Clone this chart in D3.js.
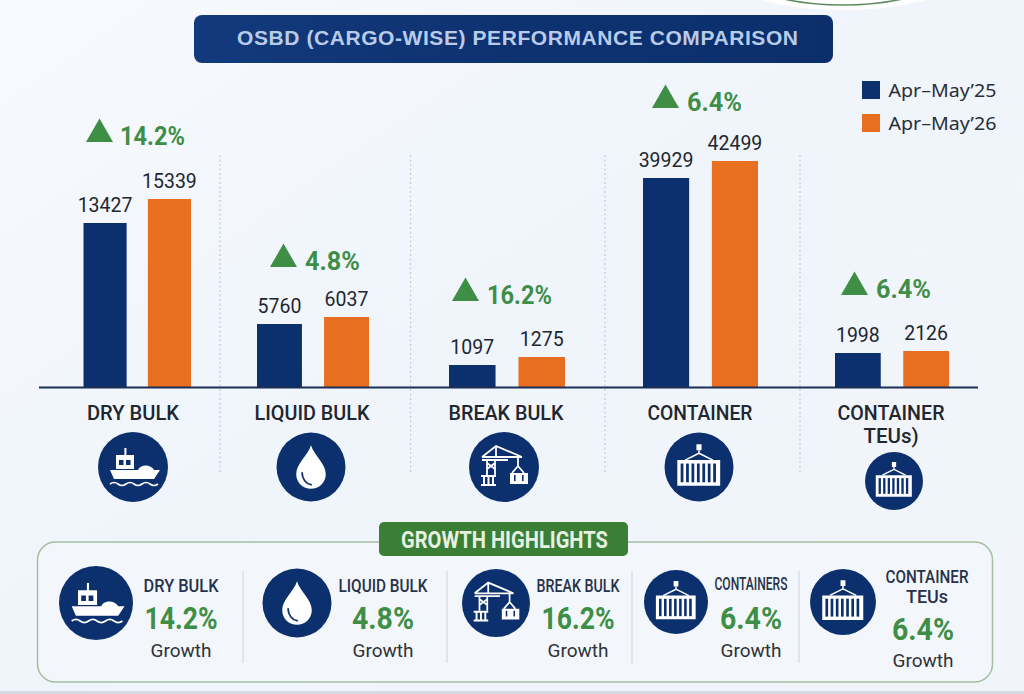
<!DOCTYPE html>
<html>
<head>
<meta charset="utf-8">
<title>OSBD (Cargo-wise) Performance Comparison</title>
<script src="https://cdn.jsdelivr.net/npm/d3@7/dist/d3.min.js"></script>
<style>
  html, body { margin: 0; padding: 0; background: #f1f5fc; }
  svg { display: block; }
  text { font-family: Roboto, "Noto Sans", sans-serif; }
</style>
</head>
<body>
<svg id="chart" width="1024" height="694"></svg>
<script>
// ---- Chart data ----
const categories = ["DRY BULK", "LIQUID BULK", "BREAK BULK", "CONTAINER", "CONTAINER TEUs)"];
const seriesNames = ["Apr–May’25", "Apr–May’26"];
const valuesApr25 = [13427, 5760, 1097, 39929, 1998];
const valuesApr26 = [15339, 6037, 1275, 42499, 2126];
const growthLabels = ["14.2%", "4.8%", "16.2%", "6.4%", "6.4%"];
const highlightNames = ["DRY BULK", "LIQUID BULK", "BREAK BULK", "CONTAINERS", "CONTAINER TEUs"];
const iconKinds = ["ship", "drop", "crane", "container", "container"];

const NAVY = "#0c2f6d", ORANGE = "#e96f20", GREEN = "#3f8e46", INK = "#22262e";
const svg = d3.select("#chart");

// ---- Backdrop ----
const defs = svg.append("defs");
const bg = defs.append("linearGradient").attr("id", "bg").attr("x1", 0).attr("y1", 0).attr("x2", 1).attr("y2", 1);
bg.append("stop").attr("offset", 0).attr("stop-color", "#f7fafe");
bg.append("stop").attr("offset", 0.45).attr("stop-color", "#f0f5fc");
bg.append("stop").attr("offset", 1).attr("stop-color", "#f1f5fa");
const pill = defs.append("linearGradient").attr("id", "pill");
pill.append("stop").attr("offset", 0).attr("stop-color", "#123a7c");
pill.append("stop").attr("offset", 0.5).attr("stop-color", "#0e3170");
pill.append("stop").attr("offset", 1).attr("stop-color", "#0c2f6c");

svg.append("rect").attr("width", 1024).attr("height", 694).attr("fill", "url(#bg)");
svg.append("rect").attr("y", 691).attr("width", 1024).attr("height", 3).attr("fill", "#d6dbe3");

// Seal edge poking in from the top of the page
svg.append("ellipse").attr("cx", 843).attr("cy", -42).attr("rx", 140).attr("ry", 52).attr("fill", "#ffffff");
svg.append("ellipse").attr("cx", 843).attr("cy", -42).attr("rx", 120).attr("ry", 47)
  .attr("fill", "none").attr("stroke", "#5f8c63").attr("stroke-width", 1.6);

// ---- Title ----
svg.append("rect").attr("x", 194).attr("y", 15).attr("width", 639).attr("height", 48).attr("rx", 8)
  .attr("fill", "url(#pill)");
svg.append("text").attr("x", 517.5).attr("y", 44.5).attr("text-anchor", "middle")
  .attr("textLength", 561).attr("lengthAdjust", "spacing")
  .style("font-family", "'Liberation Sans', Arial, sans-serif")
  .style("font-size", "21px").style("font-weight", 700).attr("fill", "#b8cbe8")
  .text("OSBD (CARGO-WISE) PERFORMANCE COMPARISON");

// ---- Scales ----
const baseline = 387.5;
const groupCentre = d3.scaleOrdinal(categories, [137.25, 313, 507, 700.5, 892]);
const groupSpan = d3.scaleOrdinal(categories, [107.5, 112, 116, 115, 114]);
const innerBand = c => d3.scaleBand()
  .domain(seriesNames)
  .range([groupCentre(c) - groupSpan(c) / 2, groupCentre(c) + groupSpan(c) / 2])
  .paddingInner(0.33);

// The bar heights are not proportional across cargo types: small volumes are
// stretched, so the y scale is a stepped, monotonic mapping with one knot per value.
const knots = [0].concat(d3.sort(valuesApr25.concat(valuesApr26)));
const y = d3.scaleLinear()
  .domain(knots)
  .range([baseline, 365, 357, 353, 351, 324, 317, 223, 199, 178, 161]);

// ---- Separators ----
const separatorX = d3.scaleOrdinal(categories.slice(0, 4), [220, 410.5, 605, 800]);
svg.append("g").selectAll("line").data(categories.slice(0, 4)).join("line")
  .attr("x1", separatorX).attr("x2", separatorX).attr("y1", 155).attr("y2", 473)
  .attr("stroke", "#c3cbd6").attr("stroke-width", 1.2).attr("stroke-dasharray", "2 2.5");

// ---- Bars and value labels ----
const rows = categories.map((c, i) => ({ c, i, values: [valuesApr25[i], valuesApr26[i]] }));
const barGroups = svg.append("g").selectAll("g").data(rows).join("g");
const barItems = d => d.values.map((v, k) => ({ c: d.c, v, series: seriesNames[k], k }));

barGroups.selectAll("rect").data(barItems).join("rect")
  .attr("x", d => innerBand(d.c)(d.series))
  .attr("width", d => innerBand(d.c).bandwidth())
  .attr("y", d => y(d.v))
  .attr("height", d => baseline - y(d.v))
  .attr("fill", d => d.k ? ORANGE : NAVY);

barGroups.selectAll("text").data(barItems).join("text")
  .attr("x", d => innerBand(d.c)(d.series) + innerBand(d.c).bandwidth() / 2)
  .attr("y", d => y(d.v) - 11.5)
  .attr("text-anchor", "middle")
  .style("font-size", "19.5px").attr("fill", INK)
  .text(d => d.v);

// Baseline axis
svg.append("line").attr("x1", 39).attr("x2", 978).attr("y1", baseline).attr("y2", baseline)
  .attr("stroke", "#1b2f57").attr("stroke-width", 2);

// ---- Growth callouts above each group ----
const triangle = d3.symbol(d3.symbolTriangle, 316)();
const calloutX = d3.scaleOrdinal(categories, [99.5, 283.5, 465.5, 665.5, 854.5]);
const calloutBase = d3.scaleOrdinal(categories, [142, 267, 301, 108, 295]);
const calloutText = d3.scaleOrdinal(categories, [120, 305, 487, 687, 876]);
const calloutGroups = svg.append("g").selectAll("g").data(rows).join("g");
calloutGroups.append("path").attr("d", triangle)
  .attr("transform", d => `translate(${calloutX(d.c)},${calloutBase(d.c) - 7.8})`)
  .attr("fill", GREEN);
calloutGroups.append("text")
  .attr("x", d => calloutText(d.c))
  .attr("y", d => calloutBase(d.c) + 3)
  .attr("textLength", (d, i) => growthLabels[i].length === 5 ? 65 : 55)
  .attr("lengthAdjust", "spacingAndGlyphs")
  .style("font-size", "25.5px").style("font-weight", 700).attr("fill", GREEN)
  .text(d => growthLabels[d.i]);

// ---- Legend ----
const legend = svg.append("g").selectAll("g").data(seriesNames).join("g")
  .attr("transform", (d, i) => `translate(862,${81 + i * 33})`);
legend.append("rect").attr("width", 18).attr("height", 18).attr("fill", (d, i) => i ? ORANGE : NAVY);
legend.append("text").attr("x", 26.5).attr("y", 16).attr("textLength", 108).attr("lengthAdjust", "spacingAndGlyphs")
  .style("font-family", "'Noto Sans', sans-serif").style("font-size", "18px").attr("fill", "#2a2e36").text(d => d);

// ---- Icons: white pictograms on a navy disc, drawn in a 35-unit-radius space ----
const iconDrawers = {
  ship(g) {
    g.append("path").attr("fill", "#fff")
      .attr("d", "M-23,3 L27,3 L21,12 L-19,12 Z M-8.6,-19 h2 v7 h-2 Z M-17,-12 h18 v14 h-18 Z M5,3 C7,-3 18,-3 21,3 Z");
    g.append("path").attr("fill", NAVY).attr("d", "M-14,-7 h4.5 v5 h-4.5 Z M-7,-7 h4.5 v5 h-4.5 Z");
    g.append("path").attr("fill", "none").attr("stroke", "#fff").attr("stroke-width", 1.6)
      .attr("d", "M-23,17 q4,-3 8,0 t8,0 t8,0 t8,0 t8,0 t8,0");
  },
  drop(g) {
    g.append("path").attr("fill", "#fff")
      .attr("d", "M0,-22 C3,-12 15,-3 15,7 C15,16 8,22 0,22 C-8,22 -15,16 -15,7 C-15,-3 -3,-12 0,-22 Z");
    g.append("path").attr("fill", "none").attr("stroke", NAVY).attr("stroke-width", 1.8).attr("stroke-linecap", "round")
      .attr("d", "M-9,6 C-9,12 -5,17 0,18");
  },
  crane(g) {
    g.append("path").attr("fill", "none").attr("stroke", "#fff").attr("stroke-width", 1.8)
      .attr("d", "M-22,-10 L18,-10 M-22,-7 L4,-7 M-22,-10 L-8,-21 L18,-10 M-8,-21 L-8,-10 M-17,-7 L-17,8 M-9,-7 L-9,8 M-17,-4 L-9,2 M-9,-4 L-17,2 M14,-10 L14,-1 M14,-1 L8,6 M14,-1 L20,6");
    g.append("path").attr("fill", "#fff").attr("d", "M-23,8 h15 v2 h-15 Z M-23,17 h15 v2 h-15 Z M-21,10 h2 v7 h-2 Z M-16.5,10 h2 v7 h-2 Z M-12,10 h2 v7 h-2 Z M6,6 h18 v11 h-18 Z");
    g.append("path").attr("fill", NAVY).attr("d", "M10,8 h1.6 v6 h-1.6 Z M18,8 h1.6 v6 h-1.6 Z");
  },
  container(g) {
    g.append("path").attr("fill", "#fff")
      .attr("d", "M-2.6,-23 h5.2 v6 h-5.2 Z M-22,-7 h43.5 v26 h-43.5 Z");
    g.append("path").attr("fill", "none").attr("stroke", "#fff").attr("stroke-width", 1.6)
      .attr("d", "M0,-17 L0,-14 L-14,-7 M0,-14 L14,-7");
    const slots = d3.range(7);
    g.selectAll("rect.slot").data(slots).join("rect").attr("class", "slot")
      .attr("x", d => -18.6 + d * 5.5).attr("y", -3.5).attr("width", 2.8).attr("height", 19).attr("fill", NAVY);
  }
};
function drawIcon(parent, kind, cx, cy, r) {
  const g = parent.append("g").attr("transform", `translate(${cx},${cy})`);
  g.append("circle").attr("r", r).attr("fill", NAVY);
  iconDrawers[kind](g.append("g").attr("transform", `scale(${r / 35})`));
}

// ---- Category labels and their icons below the axis ----
const labelLayer = svg.append("g");
const labelX = d3.scaleOrdinal(categories, [133, 312, 506, 700, 891]);
const labelWidth = d3.scaleOrdinal(categories, [92, 115, 115, 105, 107]);
const iconX = d3.scaleOrdinal(categories, [133, 311, 504, 699, 894]);
const iconY = d3.scaleOrdinal(categories, [467, 467, 467, 467, 481]);
const iconR = d3.scaleOrdinal(categories, [35, 34.5, 35, 34.5, 29]);
categories.forEach((c, i) => {
  const lines = c.startsWith("CONTAINER ") ? ["CONTAINER", "TEUs)"] : [c];
  lines.forEach((line, k) => {
    const t = labelLayer.append("text").attr("x", labelX(c)).attr("y", 420 + k * 23)
      .attr("text-anchor", "middle").style("font-size", "20.5px").style("font-weight", 500).attr("fill", INK).text(line);
    if (k === 0) t.attr("textLength", labelWidth(c)).attr("lengthAdjust", "spacingAndGlyphs");
  });
  drawIcon(labelLayer, iconKinds[i], iconX(c), iconY(c), iconR(c));
});

// ---- Growth highlights panel ----
const panel = svg.append("g");
panel.append("rect").attr("x", 37.5).attr("y", 542).attr("width", 955).attr("height", 140).attr("rx", 18)
  .attr("fill", "#f3f7fb").attr("stroke", "#a5bea3").attr("stroke-width", 1.5);
panel.append("rect").attr("x", 379).attr("y", 522).attr("width", 249).attr("height", 34).attr("rx", 5).attr("fill", "#3b7e36");
panel.append("text").attr("x", 504.5).attr("y", 548).attr("text-anchor", "middle")
  .attr("textLength", 207).attr("lengthAdjust", "spacingAndGlyphs")
  .style("font-size", "24px").style("font-weight", 700).attr("fill", "#e6f1e1").text("GROWTH HIGHLIGHTS");

const highlightSeps = [243, 447, 632, 799];
panel.selectAll("line").data(highlightSeps).join("line")
  .attr("x1", d => d).attr("x2", d => d).attr("y1", 571).attr("y2", 663)
  .attr("stroke", "#d3d9df").attr("stroke-width", 1.2);

const hlIconX = d3.scaleOrdinal(highlightNames, [96, 297, 496, 676, 843]);
const hlIconY = d3.scaleOrdinal(highlightNames, [603, 603, 603, 602, 602]);
const hlIconR = d3.scaleOrdinal(highlightNames, [37, 34.5, 34, 32, 33]);
const hlTextX = d3.scaleOrdinal(highlightNames, [181, 383, 578, 751, 923]);
const hlNameWidth = d3.scaleOrdinal(highlightNames, [75, 89, 83, 73, 83]);

highlightNames.forEach((name, i) => {
  drawIcon(panel, iconKinds[i], hlIconX(name), hlIconY(name), hlIconR(name));
  const x = hlTextX(name);
  const twoLine = name.endsWith("TEUs");
  const nameLines = twoLine ? ["CONTAINER", "TEUs"] : [name];
  nameLines.forEach((line, k) => {
    const yy = twoLine ? 583 + k * 20 : (name === "CONTAINERS" ? 590 : 592);
    const t = panel.append("text").attr("x", twoLine ? 927 : x).attr("y", yy).attr("text-anchor", "middle")
      .style("font-size", "18px").style("font-weight", 500).attr("fill", "#27324a").text(line);
    if (k === 0) t.attr("textLength", hlNameWidth(name)).attr("lengthAdjust", "spacingAndGlyphs");
  });
  panel.append("text").attr("x", x).attr("y", twoLine ? 640 : 629).attr("text-anchor", "middle")
    .attr("textLength", growthLabels[i].length === 5 ? 73 : 62).attr("lengthAdjust", "spacingAndGlyphs")
    .style("font-size", "31px").style("font-weight", 700).attr("fill", GREEN).text(growthLabels[i]);
  panel.append("text").attr("x", x).attr("y", twoLine ? 667 : 657).attr("text-anchor", "middle")
    .style("font-size", "19px").attr("fill", "#2f3338").text("Growth");
});
</script>
</body>
</html>
